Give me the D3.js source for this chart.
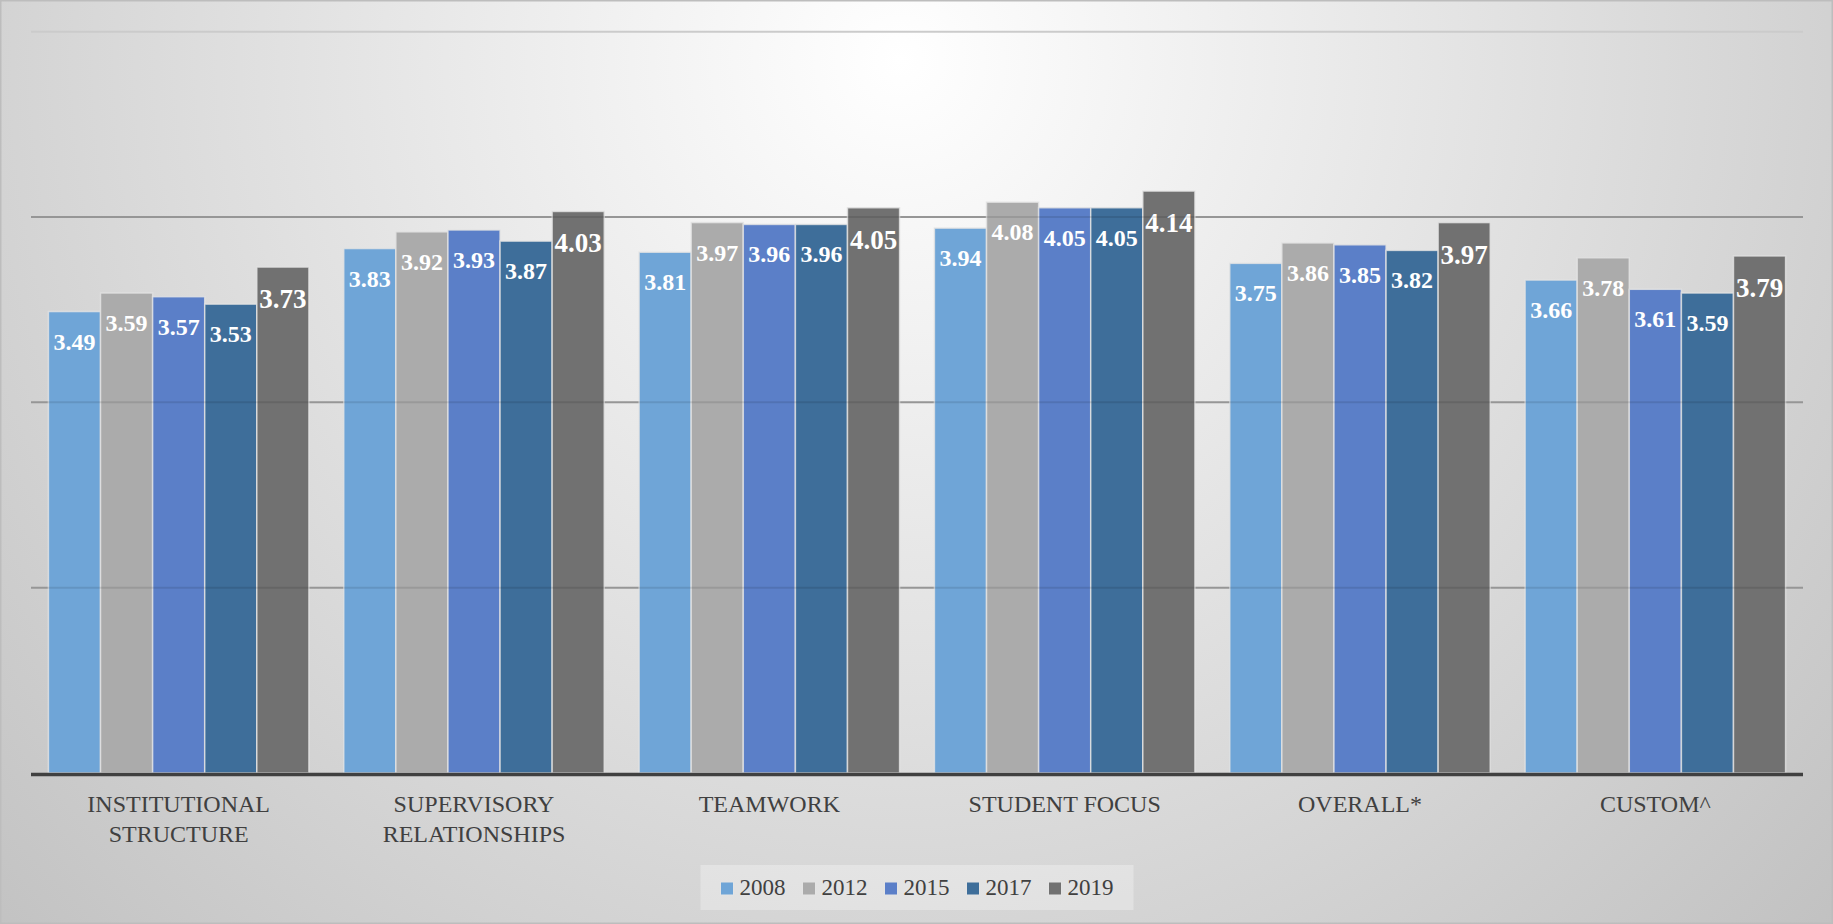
<!DOCTYPE html>
<html>
<head>
<meta charset="utf-8">
<script src="https://cdn.jsdelivr.net/npm/d3@7"></script>
<style>
    body { margin: 0; background: #fff; }
    svg text { font-family: "Liberation Serif", "DejaVu Serif", serif; }
</style>
</head>
<body>
<div id="chart"></div>
<script>

// chart values
var categories = ["INSTITUTIONAL\nSTRUCTURE", "SUPERVISORY\nRELATIONSHIPS", "TEAMWORK",
    "STUDENT FOCUS", "OVERALL*", "CUSTOM^"]
var years = ["2008", "2012", "2015", "2017", "2019"]
var values2008 = [3.49, 3.83, 3.81, 3.94, 3.75, 3.66]
var values2012 = [3.59, 3.92, 3.97, 4.08, 3.86, 3.78]
var values2015 = [3.57, 3.93, 3.96, 4.05, 3.85, 3.61]
var values2017 = [3.53, 3.87, 3.96, 4.05, 3.82, 3.59]
var values2019 = [3.73, 4.03, 4.05, 4.14, 3.97, 3.79]
var yTicks = [1, 2, 3, 4, 5]
var colors = ["#6fa5d7", "#ababab", "#5b7fc8", "#3e6e9a", "#717171"]

var series = [values2008, values2012, values2015, values2017, values2019]

var W = 1833, H = 924
var plot = { left: 31, right: 1803, top: 31.7, bottom: 773 }

var svg = d3.select("#chart").append("svg")
    .attr("width", W)
    .attr("height", H)

// background: soft radial grey, brightest at top centre
var defs = svg.append("defs")
var grad = defs.append("radialGradient")
    .attr("id", "bg")
    .attr("gradientUnits", "userSpaceOnUse")
    .attr("cx", 900).attr("cy", 60).attr("r", 1300)
grad.append("stop").attr("offset", 0).attr("stop-color", "#ffffff")
grad.append("stop").attr("offset", 1).attr("stop-color", "#c0c0c0")

svg.append("rect")
    .attr("width", W).attr("height", H)
    .attr("fill", "url(#bg)")
    .attr("stroke", "#bdbdbd")
    .attr("stroke-width", 3)

var x0 = d3.scaleBand()
    .domain(categories)
    .range([plot.left, plot.right])
    .paddingInner(0.118)
    .paddingOuter(0.059)

var x1 = d3.scaleBand()
    .domain(years)
    .range([0, x0.bandwidth()])
    .padding(0)

var y = d3.scaleLinear()
    .domain([1, 5])
    .range([plot.bottom, plot.top])

var color = d3.scaleOrdinal().domain(years).range(colors)

// gridlines under the bars
var gridTicks = yTicks.filter(function(t) { return t > 1 })
svg.append("g").selectAll("line")
    .data(gridTicks)
  .enter().append("line")
    .attr("x1", plot.left).attr("x2", plot.right)
    .attr("y1", function(d) { return y(d) })
    .attr("y2", function(d) { return y(d) })
    .attr("stroke", function(d) { return d === 5 ? "#cbcbcb" : "#a8a8a8" })
    .attr("stroke-width", 2)

var rows = []
categories.forEach(function(c, ci) {
    years.forEach(function(yr, si) {
        rows.push({ cat: c, year: yr, value: series[si][ci], last: si === years.length - 1 })
    })
})

var bars = svg.append("g").selectAll("g")
    .data(rows)
  .enter().append("g")
    .attr("transform", function(d) { return "translate(" + (x0(d.cat) + x1(d.year)) + ",0)" })

bars.append("rect")
    .attr("x", 0)
    .attr("y", function(d) { return y(d.value) })
    .attr("width", x1.bandwidth())
    .attr("height", function(d) { return y(1) - y(d.value) })
    .attr("fill", function(d) { return color(d.year) })
    .attr("stroke", "#e4e4e4")
    .attr("stroke-opacity", 0.8)
    .attr("stroke-width", 1.5)

// gridlines show faintly through the bars
svg.append("g").selectAll("line")
    .data(gridTicks.filter(function(t) { return t < 5 }))
  .enter().append("line")
    .attr("x1", plot.left).attr("x2", plot.right)
    .attr("y1", function(d) { return y(d) })
    .attr("y2", function(d) { return y(d) })
    .attr("stroke", "#000")
    .attr("stroke-opacity", 0.1)
    .attr("stroke-width", 2)

bars.append("text")
    .attr("x", x1.bandwidth() / 2)
    .attr("y", function(d) { return y(d.value) + (d.last ? 41 : 38) })
    .attr("text-anchor", "middle")
    .attr("fill", "#ffffff")
    .attr("font-weight", "bold")
    .attr("font-size", function(d) { return d.last ? 27 : 24 })
    .text(function(d) { return d.value.toFixed(2) })

// axis baseline
svg.append("line")
    .attr("x1", plot.left).attr("x2", plot.right)
    .attr("y1", y(1) + 1.5).attr("y2", y(1) + 1.5)
    .attr("stroke", "#404040")
    .attr("stroke-width", 3.5)

// category labels
var catLabels = svg.append("g").selectAll("text")
    .data(categories)
  .enter().append("text")
    .attr("text-anchor", "middle")
    .attr("fill", "#404040")
    .attr("font-size", 24)
    .attr("transform", function(d) { return "translate(" + (x0(d) + x0.bandwidth() / 2) + ",812)" })

catLabels.selectAll("tspan")
    .data(function(d) { return d.split("\n") })
  .enter().append("tspan")
    .attr("x", 0)
    .attr("y", function(d, i) { return i * 30 })
    .text(function(d) { return d })

// legend
var legendBox = svg.append("rect")
    .attr("y", 865).attr("height", 45)
    .attr("fill", "#ffffff")
    .attr("fill-opacity", 0.3)

var GAP = 17
var legend = svg.append("g")
var lx = 0
years.forEach(function(yr) {
    var item = legend.append("g").attr("transform", "translate(" + lx + ",0)")
    item.append("rect")
        .attr("x", 0).attr("y", 882)
        .attr("width", 13).attr("height", 13)
        .attr("fill", color(yr))
        .attr("stroke", "#e4e4e4")
        .attr("stroke-width", 1)
    var t = item.append("text")
        .attr("x", 19).attr("y", 895)
        .attr("fill", "#404040")
        .attr("font-size", 23)
        .text(yr)
    lx += 19 + t.node().getComputedTextLength() + GAP
})
var legendW = lx - GAP
var legendX = (plot.left + plot.right) / 2 - legendW / 2
legend.attr("transform", "translate(" + legendX + ",0)")
legendBox.attr("x", legendX - 20).attr("width", legendW + 40)

</script>
</body>
</html>
